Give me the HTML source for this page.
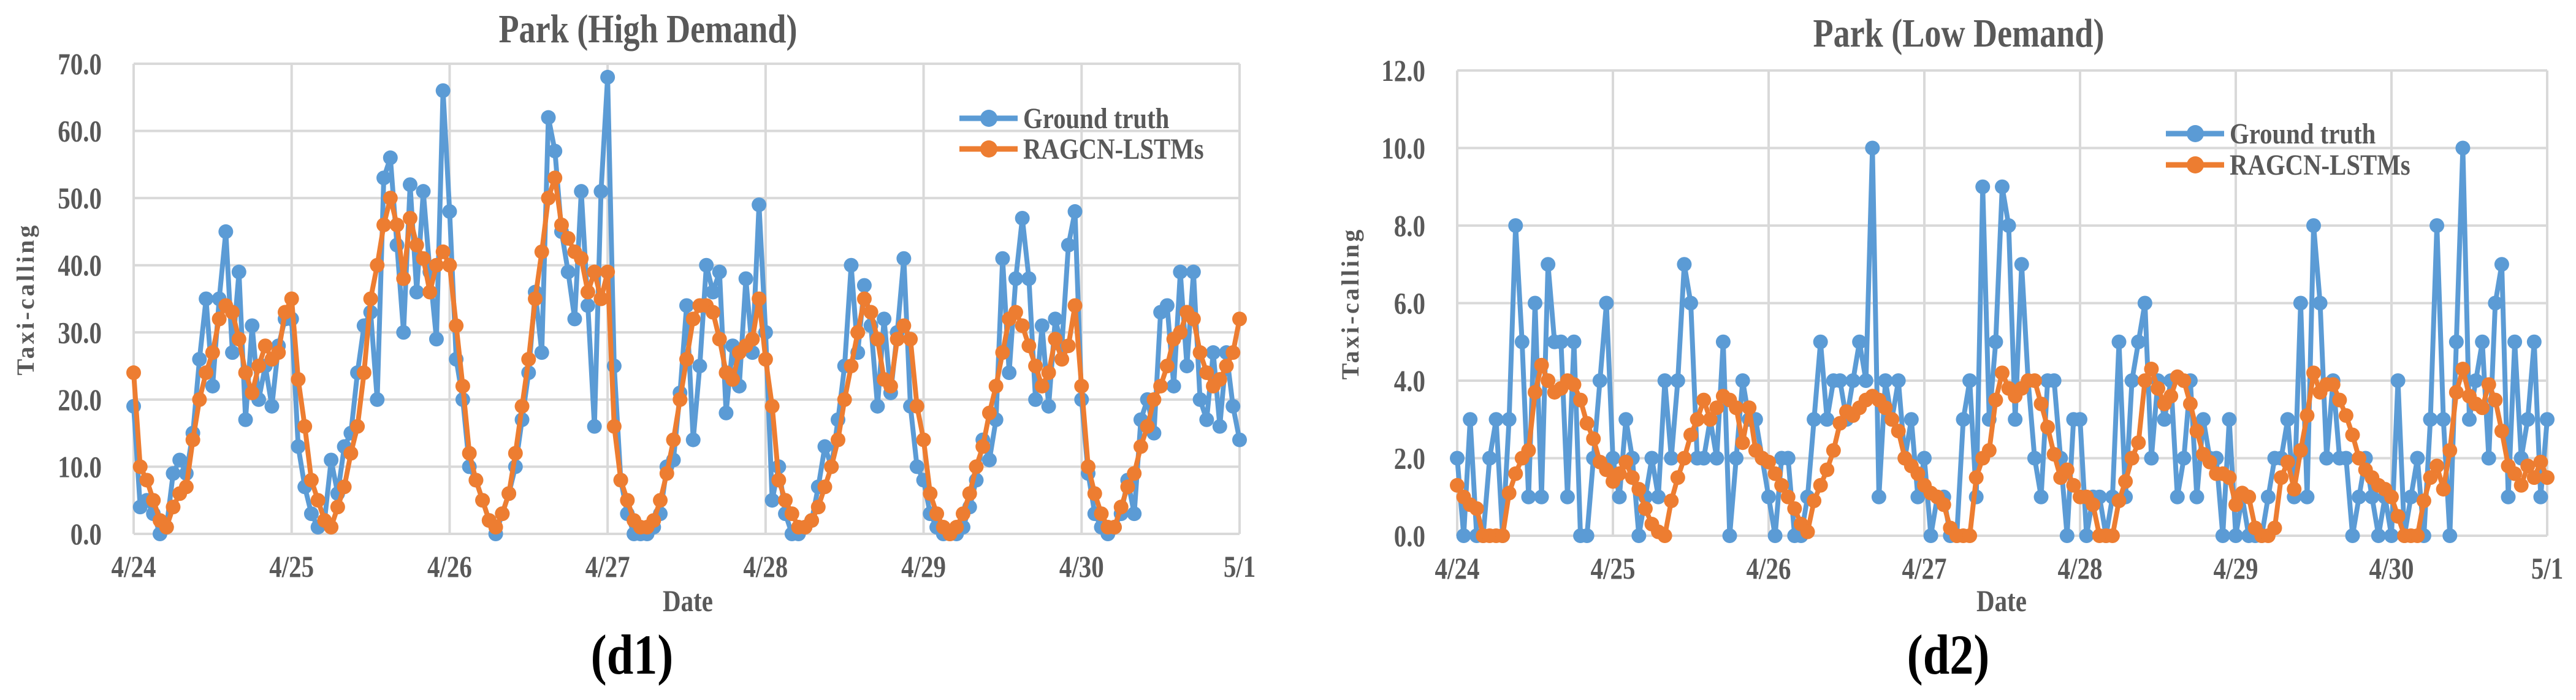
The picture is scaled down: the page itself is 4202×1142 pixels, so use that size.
<!DOCTYPE html>
<html><head><meta charset="utf-8"><style>
html,body{margin:0;padding:0;background:#fff;}
svg{display:block;}
text{font-family:"Liberation Serif",serif;font-weight:bold;fill:#595959;}
</style></head><body>
<svg id="s" width="4202" height="1142" viewBox="0 0 4202 1142" xmlns="http://www.w3.org/2000/svg"></svg>
<script>
const dayLabels = ["4/24","4/25","4/26","4/27","4/28","4/29","4/30","5/1"];
const highTicks = ["0.0","10.0","20.0","30.0","40.0","50.0","60.0","70.0"];
const lowTicks = ["0.0","2.0","4.0","6.0","8.0","10.0","12.0"];
const highTruth = [
19,4,5,3,0,1,9,11,9,15,26,35,22,35,45,27,39,17,31,20,25,19,28,32,
32,13,7,3,1,2,11,6,13,15,24,31,33,20,53,56,43,30,52,36,51,39,29,66,
48,26,20,10,8,5,2,0,3,6,10,17,24,36,27,62,57,45,39,32,51,34,16,51,
68,25,8,3,0,0,0,1,3,10,11,21,34,14,25,40,36,39,18,28,22,38,27,49,
30,5,10,3,0,0,1,2,7,13,10,17,25,40,27,37,31,19,32,21,30,41,19,10,
8,3,1,0,0,0,1,4,8,14,11,17,41,24,38,47,38,20,31,19,32,28,43,48,
20,9,3,1,0,1,3,8,3,17,20,15,33,34,22,39,25,39,20,17,27,16,27,19,14];
const highPred = [
24,10,8,5,2,1,4,6,7,14,20,24,27,32,34,33,29,24,21,25,28,26,27,33,
35,23,16,8,5,2,1,4,7,12,16,24,35,40,46,50,46,38,47,43,41,36,40,42,
40,31,22,12,8,5,2,1,3,6,12,19,26,35,42,50,53,46,44,42,41,36,39,35,
39,16,8,5,2,1,1,2,5,9,14,20,26,32,34,34,33,29,24,23,27,28,29,35,
26,19,8,5,3,1,1,2,4,7,10,14,20,25,30,35,33,29,23,22,29,31,29,19,
14,6,3,1,0,1,3,6,10,13,18,22,27,32,33,31,28,25,22,24,29,26,28,34,
22,10,6,3,1,1,4,7,9,13,16,20,22,25,29,30,33,32,27,24,22,23,25,27,32];
const lowTruth = [
2,0,3,0,0,2,3,0,3,8,5,1,6,1,7,5,5,1,5,0,0,2,4,6,
2,1,3,2,0,1,2,1,4,2,4,7,6,2,2,3,2,5,0,2,4,3,3,2,
1,0,2,2,0,0,1,3,5,3,4,4,3,4,5,4,10,1,4,3,4,2,3,1,
2,0,1,1,0,0,3,4,1,9,3,5,9,8,3,7,4,2,1,4,4,2,0,3,
3,0,1,1,0,1,5,1,4,5,6,2,4,3,4,1,2,4,1,3,2,2,0,3,
0,1,0,0,0,1,2,2,3,1,6,1,8,6,2,4,2,2,0,1,2,1,0,1,
0,4,0,1,2,0,3,8,3,0,5,10,3,4,5,2,6,7,1,5,2,3,5,1,3];
const lowPred = [
1.3,1.0,0.8,0.7,0,0,0,0,1.1,1.6,2.0,2.2,3.7,4.4,4.0,3.7,3.8,4.0,3.9,3.5,2.9,2.5,1.9,1.7,
1.4,1.6,1.9,1.5,1.2,0.7,0.3,0.1,0,0.9,1.5,2.0,2.6,3.0,3.5,3.0,3.3,3.6,3.5,3.3,2.4,3.3,2.2,2.0,
1.9,1.6,1.3,1.0,0.7,0.3,0.1,0.9,1.3,1.7,2.2,2.9,3.2,3.1,3.3,3.5,3.6,3.5,3.3,3.0,2.7,2.0,1.8,1.6,
1.3,1.1,1.0,0.8,0.2,0,0,0,1.5,2.0,2.2,3.5,4.2,3.8,3.6,3.8,4.0,4.0,3.4,2.8,2.1,1.5,1.7,1.3,
1.0,1.0,0.8,0,0,0,0.9,1.4,2.0,2.4,4.0,4.3,3.8,3.4,3.6,4.1,4.0,3.4,2.7,2.1,1.9,1.6,1.6,1.5,
0.8,1.1,1.0,0.2,0,0,0.2,1.5,1.9,1.2,2.2,3.1,4.2,3.7,3.9,3.9,3.5,3.1,2.6,2.0,1.7,1.5,1.3,1.2,
1.0,0.5,0,0,0,0.9,1.5,1.8,1.2,2.2,3.7,4.3,3.6,3.4,3.3,3.9,3.5,2.7,1.8,1.6,1.3,1.8,1.5,1.9,1.5];

const NS="http://www.w3.org/2000/svg";
const svg=document.getElementById('s');
function mk(tag,attrs,parent){const e=document.createElementNS(NS,tag);for(const k in attrs)e.setAttribute(k,attrs[k]);(parent||svg).appendChild(e);return e;}
function ctext(parent,x,y,size,anchor,sx,str){
  const t=mk('text',{x:0,y:0,'text-anchor':anchor,'font-size':size,transform:`translate(${x},${y}) scale(${sx},1)`},parent);
  t.textContent=str;return t;
}

function chart(cfg){
  const g=mk('g',{});
  
  
  const {L,R,T,B,ymax,ticks,truth,pred}=cfg;
  const n=truth.length-1;
  const xs=i=>L+(R-L)*i/n;
  const ys=v=>B-(B-T)*v/ymax;
  ticks.forEach((t,i)=>{
    const v=ymax*i/(ticks.length-1);
    const gl=mk('line',{x1:L,x2:R,y1:ys(v),y2:ys(v),stroke:'#d9d9d9','stroke-width':4},g);
    
    
    const tl=ctext(g,L-52,ys(v)+17,50,'end',0.82,t);
    
    
  });
  dayLabels.forEach((d,i)=>{
    const x=L+(R-L)*i/(dayLabels.length-1);
    const gl=mk('line',{x1:x,x2:x,y1:T,y2:B,stroke:'#d9d9d9','stroke-width':4},g);
    
    
    const tl=ctext(g,x,B+70,50,'middle',0.82,d);
    
    
  });
  [[truth,'#5b9bd5','ground-truth-series'],[pred,'#ed7d31','prediction-series']].forEach(([arr,c,nm])=>{
    const sg=mk('g',{},g);
    
    
    const pl=mk('polyline',{points:arr.map((v,i)=>xs(i)+','+ys(v)).join(' '),fill:'none',stroke:c,'stroke-width':8,'stroke-linejoin':'round'},sg);
    
    
    arr.forEach((v,i)=>{
      const p=mk('circle',{cx:xs(i),cy:ys(v),r:12,fill:c},sg);
      
      
    });
  });
  const t=ctext(g,cfg.tx,cfg.ty,66,'middle',0.82,cfg.title);
  
  
  const xt=ctext(g,cfg.dx,997,50,'middle',0.82,'Date');
  
  
  const yt=mk('text',{x:0,y:0,'text-anchor':'middle','font-size':40,'letter-spacing':4,transform:`translate(${cfg.yx},${cfg.yy}) rotate(-90)`},g);
  yt.textContent='Taxi-calling';
  
  
  const cap=mk('text',{x:0,y:0,'text-anchor':'middle','font-size':92,style:'fill:#000',transform:`translate(${cfg.cx},1099) scale(0.85,1)`},g);
  cap.textContent=cfg.cap;
  
  
  [['Ground truth','#5b9bd5',cfg.ly1],['RAGCN-LSTMs','#ed7d31',cfg.ly2]].forEach(([lab,c,y])=>{
    const lg=mk('g',{},g);
    
    
    mk('line',{x1:cfg.lx,x2:cfg.lx+95,y1:y,y2:y,stroke:c,'stroke-width':9},lg);
    mk('circle',{cx:cfg.lx+48,cy:y,r:14,fill:c},lg);
    ctext(lg,cfg.lx+104,y+16,48,'start',0.85,lab);
  });
}
chart({name:'high-demand-chart',L:218,R:2022,T:104,B:871,ymax:70,ticks:highTicks,truth:highTruth,pred:highPred,
  tx:1057,ty:69,title:'Park (High Demand)',dx:1122,yx:55,yy:488,cx:1031,cap:'(d1)',lx:1565,ly1:193,ly2:243});
chart({name:'low-demand-chart',L:2377,R:4155,T:115,B:874,ymax:12,ticks:lowTicks,truth:lowTruth,pred:lowPred,
  tx:3195,ty:76,title:'Park (Low Demand)',dx:3265,yx:2216,yy:495,cx:3178,cap:'(d2)',lx:3533,ly1:218,ly2:269});
</script>
</body></html>
